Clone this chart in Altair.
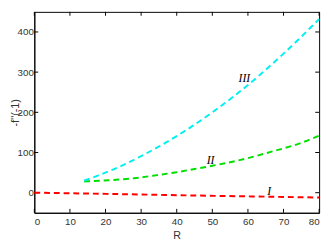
import altair as alt
import pandas as pd

r_I = [0, 14, 30, 45, 60, 80]
f_I = [0, -2, -4.5, -7, -9.2, -12]
r_II = [14, 21, 28, 34, 40, 45, 50, 60, 67, 74, 80]
f_II = [28, 31, 36, 43, 51, 59, 67, 86, 103, 121, 142]
r_III = [14, 18, 24, 30, 36, 42, 50, 60, 70, 80]
f_III = [30, 43, 65, 91, 120, 152, 200, 268, 346, 432]

lab_text = ["I", "II", "III"]
lab_x = [66, 49.5, 59]
lab_y = [3, 82, 284]

xticks = [0, 10, 20, 30, 40, 50, 60, 70, 80]
yticks = [0, 100, 200, 300, 400]

rows = []
for name, rs, fs in [("I", r_I, f_I), ("II", r_II, f_II), ("III", r_III, f_III)]:
    for r, f in zip(rs, fs):
        rows.append({"series": name, "R": r, "f": f})
df = pd.DataFrame(rows)
labels = pd.DataFrame({"t": lab_text, "R": lab_x, "f": lab_y})

xs = alt.Scale(domain=[0, 80], nice=False)
ys = alt.Scale(domain=[-50, 450], nice=False)

H = 206
W = 292

xaxis = alt.Axis(values=xticks, ticks=False, grid=False, domain=True, domainColor="#000",
                 domainWidth=1, labelOverlap=False,
                 labelFont="Liberation Sans", labelFontSize=10, labelColor="#333",
                 titleFont="Liberation Sans", titleFontSize=11, titleFontWeight="normal",
                 titleColor="#333", labelPadding=4, titlePadding=3)
yaxis = alt.Axis(values=yticks, ticks=False, grid=False, domain=True, domainColor="#000",
                 domainWidth=1, labelOverlap=False,
                 labelFont="Liberation Sans", labelFontSize=10, labelColor="#333",
                 titleFont="Liberation Sans", titleFontSize=11, titleFontWeight="normal",
                 titleColor="#333", labelPadding=1, titlePadding=-3)

XT = "R"
YT = "-f''(-1)"

xt = pd.DataFrame({"R": xticks})
yt = pd.DataFrame({"f": yticks})
rk = dict(color="#000", strokeWidth=1)
tick_b = alt.Chart(xt).mark_rule(**rk).encode(
    x=alt.X("R:Q", scale=xs, title=XT, axis=xaxis), y=alt.value(H), y2=alt.value(H - 4))
tick_t = alt.Chart(xt).mark_rule(**rk).encode(
    x=alt.X("R:Q", scale=xs, title=XT, axis=xaxis), y=alt.value(0), y2=alt.value(4))
tick_l = alt.Chart(yt).mark_rule(**rk).encode(
    y=alt.Y("f:Q", scale=ys, title=YT, axis=yaxis), x=alt.value(0), x2=alt.value(4))
tick_r = alt.Chart(yt).mark_rule(**rk).encode(
    y=alt.Y("f:Q", scale=ys, title=YT, axis=yaxis), x=alt.value(W), x2=alt.value(W - 4))

lines = alt.Chart(df).mark_line(strokeWidth=2, strokeDash=[6, 4], interpolate="monotone").encode(
    x=alt.X("R:Q", scale=xs, title=XT, axis=xaxis),
    y=alt.Y("f:Q", scale=ys, title=YT, axis=yaxis),
    color=alt.Color("series:N", scale=alt.Scale(domain=["I", "II", "III"],
                                                 range=["#ff0000", "#00e000", "#00f0f0"]),
                    legend=None),
    detail="series:N",
)

text = alt.Chart(labels).mark_text(font="Liberation Serif", fontStyle="italic",
                                    fontSize=12, color="#000").encode(
    x=alt.X("R:Q", scale=xs, title=XT, axis=xaxis),
    y=alt.Y("f:Q", scale=ys, title=YT, axis=yaxis), text="t:N")

chart = alt.layer(tick_b, tick_t, tick_l, tick_r, lines, text).properties(
    width=W, height=H,
    autosize=alt.AutoSizeParams(type="none"),
    padding={"left": 27, "top": 1, "right": 5, "bottom": 27},
).configure_view(stroke="#000", strokeWidth=1)

chart.save("out.html", embed_options={"renderer": "svg", "actions": False})
